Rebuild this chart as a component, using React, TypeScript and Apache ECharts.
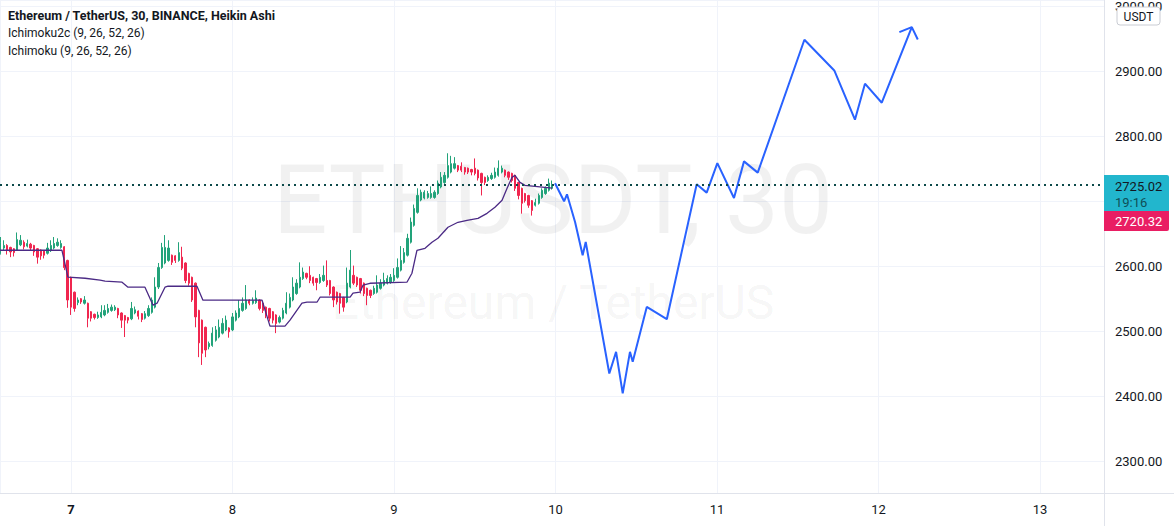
import React, { useEffect, useRef } from 'react';
import * as echarts from 'echarts';

const titleText = 'Ethereum / TetherUS, 30, BINANCE, Heikin Ashi';
const indicatorLabels = ['Ichimoku2c (9, 26, 52, 26)', 'Ichimoku (9, 26, 52, 26)'];
const watermarkMain = 'ETHUSDT, 30';
const watermarkSub = 'Ethereum / TetherUS';
const currencyLabel = 'USDT';

// time axis in days of the month; first candle = day 6, 13:30; 30-minute candles
const firstCandleDay = 6.5625;
const candleStep = 1 / 48;

// Heikin Ashi candles: [open, close, low, high]
const haCandles: number[][] = [
  [2620, 2637, 2618, 2645], [2628, 2632, 2625, 2640], [2632, 2625, 2618, 2634], [2629, 2622, 2614, 2630],
  [2627, 2621, 2615, 2628], [2625, 2641, 2624, 2652], [2633, 2640, 2631, 2648], [2637, 2630, 2626, 2640],
  [2631, 2635, 2629, 2641], [2634, 2628, 2624, 2636], [2632, 2622, 2616, 2633], [2627, 2614, 2604, 2628],
  [2625, 2616, 2610, 2626], [2624, 2617, 2612, 2625], [2620, 2628, 2618, 2636], [2624, 2632, 2622, 2640],
  [2628, 2635, 2626, 2645], [2632, 2637, 2630, 2643], [2629, 2635, 2627, 2640], [2630, 2598, 2594, 2631],
  [2609, 2548, 2536, 2610], [2583, 2537, 2525, 2584], [2560, 2535, 2530, 2561], [2544, 2548, 2540, 2552],
  [2550, 2545, 2542, 2551], [2543, 2548, 2541, 2554], [2543, 2520, 2506, 2544], [2530, 2520, 2515, 2531],
  [2526, 2521, 2518, 2527], [2521, 2525, 2519, 2530], [2522, 2529, 2520, 2540], [2525, 2532, 2523, 2540],
  [2529, 2535, 2527, 2542], [2532, 2537, 2530, 2541], [2533, 2537, 2531, 2540], [2535, 2525, 2520, 2536],
  [2528, 2517, 2505, 2529], [2524, 2517, 2491, 2525], [2521, 2517, 2512, 2522], [2519, 2535, 2517, 2545],
  [2528, 2533, 2526, 2538], [2531, 2523, 2518, 2532], [2527, 2518, 2514, 2528], [2520, 2527, 2518, 2531],
  [2524, 2535, 2522, 2540], [2529, 2548, 2527, 2552], [2537, 2568, 2535, 2583], [2568, 2598, 2565, 2605],
  [2598, 2629, 2596, 2636], [2605, 2629, 2603, 2648], [2609, 2628, 2607, 2640], [2617, 2606, 2602, 2618],
  [2616, 2609, 2605, 2617], [2609, 2621, 2607, 2637], [2614, 2597, 2594, 2630], [2605, 2578, 2574, 2606],
  [2589, 2574, 2570, 2590], [2583, 2548, 2545, 2584], [2574, 2522, 2506, 2575], [2532, 2482, 2460, 2533],
  [2517, 2466, 2448, 2518], [2506, 2471, 2460, 2507], [2476, 2481, 2472, 2484], [2478, 2497, 2476, 2506],
  [2486, 2502, 2484, 2508], [2491, 2506, 2489, 2518], [2497, 2512, 2495, 2520], [2502, 2517, 2500, 2524],
  [2505, 2499, 2490, 2506], [2502, 2522, 2500, 2528], [2517, 2528, 2515, 2532], [2522, 2535, 2520, 2548],
  [2532, 2543, 2530, 2552], [2535, 2548, 2533, 2571], [2548, 2543, 2540, 2549], [2543, 2547, 2541, 2552],
  [2544, 2551, 2542, 2563], [2548, 2535, 2532, 2549], [2543, 2532, 2528, 2544], [2537, 2525, 2520, 2538],
  [2535, 2520, 2515, 2536], [2530, 2517, 2512, 2531], [2525, 2512, 2497, 2526], [2514, 2521, 2512, 2524],
  [2520, 2532, 2518, 2536], [2528, 2543, 2526, 2560], [2537, 2552, 2535, 2558], [2548, 2568, 2546, 2583],
  [2558, 2574, 2556, 2580], [2568, 2583, 2566, 2606], [2581, 2591, 2579, 2598], [2589, 2583, 2580, 2590],
  [2586, 2578, 2574, 2600], [2583, 2574, 2570, 2584], [2581, 2575, 2563, 2582], [2575, 2583, 2573, 2588],
  [2578, 2586, 2576, 2601], [2578, 2571, 2568, 2609], [2578, 2558, 2555, 2579], [2568, 2548, 2537, 2569],
  [2560, 2545, 2541, 2561], [2558, 2543, 2527, 2559], [2552, 2537, 2530, 2553], [2545, 2574, 2543, 2598],
  [2568, 2594, 2566, 2625], [2586, 2574, 2571, 2601], [2583, 2571, 2568, 2584], [2581, 2563, 2558, 2582],
  [2574, 2558, 2554, 2575], [2566, 2555, 2540, 2567], [2563, 2555, 2551, 2564], [2558, 2566, 2556, 2570],
  [2560, 2571, 2558, 2586], [2566, 2574, 2564, 2580], [2571, 2578, 2569, 2590], [2574, 2581, 2572, 2586],
  [2575, 2583, 2573, 2588], [2578, 2586, 2576, 2597], [2583, 2598, 2581, 2612], [2594, 2609, 2592, 2631],
  [2606, 2621, 2604, 2628], [2617, 2643, 2615, 2650], [2637, 2668, 2635, 2675], [2663, 2689, 2661, 2695],
  [2683, 2709, 2681, 2720], [2702, 2714, 2700, 2718], [2705, 2714, 2703, 2717], [2706, 2712, 2704, 2716],
  [2706, 2712, 2704, 2723], [2706, 2714, 2704, 2717], [2712, 2728, 2710, 2732], [2722, 2737, 2720, 2745],
  [2729, 2740, 2727, 2745], [2737, 2755, 2735, 2774], [2745, 2758, 2743, 2770], [2751, 2758, 2749, 2768],
  [2755, 2748, 2745, 2756], [2754, 2748, 2745, 2760], [2752, 2745, 2741, 2753], [2751, 2745, 2742, 2752],
  [2749, 2745, 2740, 2750], [2751, 2743, 2740, 2766], [2748, 2736, 2732, 2749], [2743, 2729, 2709, 2744],
  [2737, 2729, 2725, 2738], [2732, 2737, 2730, 2740], [2735, 2740, 2733, 2744], [2737, 2745, 2735, 2752],
  [2740, 2751, 2738, 2763], [2745, 2751, 2743, 2755], [2748, 2740, 2737, 2749], [2745, 2737, 2733, 2746],
  [2743, 2732, 2729, 2744], [2740, 2720, 2716, 2741], [2729, 2709, 2703, 2730], [2720, 2697, 2681, 2721],
  [2712, 2701, 2698, 2713], [2709, 2694, 2690, 2710], [2701, 2686, 2678, 2702], [2694, 2698, 2692, 2704],
  [2697, 2709, 2695, 2712], [2706, 2717, 2704, 2720], [2712, 2720, 2710, 2723], [2717, 2728, 2715, 2735],
  [2720, 2726, 2718, 2732],
];

// Ichimoku base line vertices: [day, price]
const baseLine: number[][] = [
  [6.5604, 2624.6], [6.944, 2624.6], [6.981, 2583.1], [7.087, 2581.5], [7.18, 2578.5], [7.211, 2577.0],
  [7.316, 2575.4], [7.353, 2567.7], [7.458, 2567.7], [7.508, 2540.0], [7.533, 2543.1], [7.582, 2567.7],
  [7.601, 2569.2], [7.78, 2569.2], [7.817, 2547.7], [8.183, 2547.7], [8.232, 2507.7], [8.325, 2507.7],
  [8.356, 2516.9], [8.43, 2543.1], [8.461, 2544.6], [8.523, 2544.6], [8.542, 2552.3], [8.728, 2552.3],
  [8.746, 2558.5], [8.789, 2560.0], [8.808, 2570.8], [8.851, 2573.8], [9.08, 2575.4], [9.111, 2589.2],
  [9.142, 2624.6], [9.192, 2627.7], [9.235, 2636.9], [9.272, 2643.1], [9.334, 2660.0], [9.396, 2667.7],
  [9.452, 2670.8], [9.52, 2673.8], [9.576, 2681.5], [9.625, 2690.8], [9.669, 2701.5], [9.7, 2720.0],
  [9.731, 2736.9], [9.749, 2740.0], [9.78, 2729.2], [9.811, 2724.6], [9.873, 2723.0], [9.979, 2720.32],
];

// Drawn projection path: [day, price]
const projection: number[][] = [
  [9.997, 2727.7], [10.053, 2700.0], [10.071, 2710.8], [10.121, 2668.2], [10.168, 2616.9], [10.187, 2637.4],
  [10.333, 2434.9], [10.375, 2468.2], [10.416, 2404.2], [10.461, 2468.2], [10.478, 2452.8], [10.565, 2537.4],
  [10.689, 2518.5], [10.874, 2726.2], [10.936, 2713.4], [11.002, 2758.9], [11.105, 2705.1], [11.167, 2761.5],
  [11.252, 2744.2], [11.541, 2948.8], [11.726, 2901.5], [11.854, 2825.7], [11.916, 2881.1], [12.02, 2851.8],
  [12.206, 2968.2],
];
const arrowHead: number[][] = [[12.129, 2960.5], [12.206, 2968.2], [12.243, 2949.2]];

const lastPrice = 2725.02;
const countdown = '19:16';
const baseLineLast = 2720.32;

const xMin = 6.5604;
const xMax = 13.396;
const yMin = 2250.8;
const yMax = 3009.2;

const FONT = 'Roboto, sans-serif';
const TEXT = '#131722';
const UP = '#22a37a';
const DOWN = '#f0264f';

export default function App() {
  const ref = useRef<HTMLDivElement>(null);

  useEffect(() => {
    if (!ref.current) return;
    const chart = echarts.init(ref.current, undefined, { renderer: 'svg' });

    const candleData = haCandles.map((c, i) => [firstCandleDay + i * candleStep, c[0], c[1], c[2], c[3]]);

    const isInt = (v: number) => Math.abs(v - Math.round(v)) < 1e-6;

    chart.setOption({
      animation: false,
      backgroundColor: '#ffffff',
      grid: { left: 0, right: 70, top: 0, bottom: 33, containLabel: false },
      xAxis: {
        type: 'value',
        min: xMin,
        max: xMax,
        minInterval: 1,
        maxInterval: 1,
        axisLine: { show: false },
        axisTick: { show: false },
        splitLine: { show: true, lineStyle: { color: '#f0f3fa', width: 1 } },
        axisLabel: {
          margin: 10,
          fontFamily: FONT,
          fontSize: 13,
          color: TEXT,
          showMinLabel: false,
          showMaxLabel: false,
          formatter: (v: number) => {
            if (!isInt(v)) return '';
            const d = Math.round(v);
            return d === 7 ? '{b|' + d + '}' : String(d);
          },
          rich: { b: { fontWeight: 'bold', fontFamily: FONT, fontSize: 13, color: TEXT } },
        },
      },
      yAxis: {
        type: 'value',
        position: 'right',
        min: yMin,
        max: yMax,
        minInterval: 100,
        maxInterval: 100,
        axisLine: { show: false },
        axisTick: { show: false },
        splitLine: { show: true, lineStyle: { color: '#f0f3fa', width: 1 } },
        axisLabel: {
          margin: 11,
          fontFamily: FONT,
          fontSize: 13,
          color: TEXT,
          formatter: (v: number) => {
            const onGrid = Math.abs(v / 100 - Math.round(v / 100)) < 1e-6;
            // the price tags on the scale cover labels next to the last price
            if (!onGrid || Math.abs(v - lastPrice) < 40) return '';
            return v.toFixed(2);
          },
        },
      },
      series: [
        {
          type: 'candlestick',
          data: candleData,
          encode: { x: 0, y: [1, 2, 3, 4] },
          barWidth: 1.8,
          z: 2,
          itemStyle: {
            color: UP,
            color0: DOWN,
            borderColor: UP,
            borderColor0: DOWN,
            borderWidth: 1,
          },
        },
        {
          type: 'line',
          data: baseLine,
          symbol: 'none',
          z: 3,
          lineStyle: { color: '#4b2a85', width: 1.3 },
          markLine: {
            silent: true,
            symbol: ['none', 'none'],
            label: { show: false },
            lineStyle: { color: '#0d4a4a', width: 2, type: [2, 4] },
            data: [{ yAxis: lastPrice }],
          },
        },
        {
          type: 'line',
          data: projection,
          symbol: 'none',
          z: 4,
          lineStyle: { color: '#2962ff', width: 2 },
        },
        {
          type: 'line',
          data: arrowHead,
          symbol: 'none',
          z: 4,
          lineStyle: { color: '#2962ff', width: 2 },
        },
      ],
    });

    const yLast = chart.convertToPixel({ yAxisIndex: 0 }, lastPrice) as number;
    const boxX = 1104;
    const boxW = 65;
    const cyanTop = Math.round(yLast - 10);
    const cyanH = 36;
    const redH = 20;

    chart.setOption({
      graphic: {
        elements: [
          {
            type: 'text', z: 0, silent: true,
            position: [553, 200],
            style: {
              text: watermarkMain, fill: 'rgba(0,0,0,0.055)',
              font: '96px ' + FONT, align: 'center', verticalAlign: 'middle',
            },
          },
          {
            type: 'text', z: 0, silent: true,
            position: [553, 302],
            style: {
              text: watermarkSub, fill: 'rgba(0,0,0,0.055)',
              font: '48px ' + FONT, align: 'center', verticalAlign: 'middle',
            },
          },
          {
            type: 'text', z: 100, position: [8, 15],
            style: { text: titleText, fill: TEXT, font: 'bold 12.5px ' + FONT, verticalAlign: 'middle' },
          },
          {
            type: 'text', z: 100, position: [8, 33],
            style: { text: indicatorLabels[0], fill: TEXT, font: '12px ' + FONT, verticalAlign: 'middle' },
          },
          {
            type: 'text', z: 100, position: [8, 51],
            style: { text: indicatorLabels[1], fill: TEXT, font: '12px ' + FONT, verticalAlign: 'middle' },
          },
          {
            type: 'line', z: 100, silent: true,
            shape: { x1: 1104.5, y1: 0, x2: 1104.5, y2: 526 },
            style: { stroke: '#e0e3eb', lineWidth: 1 },
          },
          {
            type: 'line', z: 100, silent: true,
            shape: { x1: 0, y1: 493.5, x2: 1174, y2: 493.5 },
            style: { stroke: '#e0e3eb', lineWidth: 1 },
          },
          {
            type: 'rect', z: 100,
            shape: { x: 1117, y: 7, width: 43, height: 18, r: 3 },
            style: { fill: '#ffffff', stroke: '#c9ccd3', lineWidth: 1 },
          },
          {
            type: 'text', z: 101, position: [1138.5, 16.5],
            style: { text: currencyLabel, fill: TEXT, font: '12px ' + FONT, align: 'center', verticalAlign: 'middle' },
          },
          {
            type: 'rect', z: 100,
            shape: { x: boxX, y: cyanTop, width: boxW, height: cyanH, r: [0, 2, 0, 0] },
            style: { fill: '#22b6cd' },
          },
          {
            type: 'text', z: 101, position: [1115, cyanTop + 11.5],
            style: { text: lastPrice.toFixed(2), fill: '#131722', font: '13px ' + FONT, verticalAlign: 'middle' },
          },
          {
            type: 'text', z: 101, position: [1115, cyanTop + 27],
            style: { text: countdown, fill: '#0f4f57', font: '13px ' + FONT, verticalAlign: 'middle' },
          },
          {
            type: 'rect', z: 100,
            shape: { x: boxX, y: cyanTop + cyanH, width: boxW, height: redH, r: [0, 0, 2, 0] },
            style: { fill: '#e91e63' },
          },
          {
            type: 'text', z: 101, position: [1115, cyanTop + cyanH + redH / 2],
            style: { text: baseLineLast.toFixed(2), fill: '#ffffff', font: '13px ' + FONT, verticalAlign: 'middle' },
          },
        ],
      },
    });

    return () => chart.dispose();
  }, []);

  return (
    <div
      ref={ref}
      style={{ position: 'fixed', left: 0, top: 0, width: 1174, height: 526, background: '#fff' }}
    />
  );
}
